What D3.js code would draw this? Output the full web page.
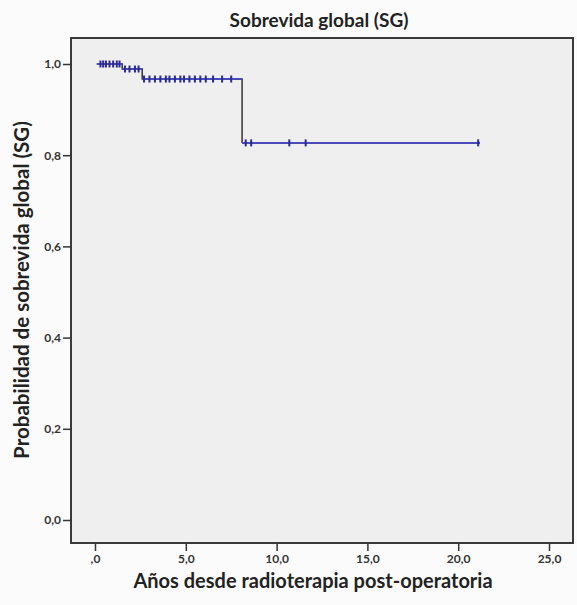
<!DOCTYPE html>
<html>
<head>
<meta charset="utf-8">
<script src="https://cdn.jsdelivr.net/npm/d3@7"></script>
<style>
  body { margin: 0; background: #fbfbfb; }
  svg { display: block; }
</style>
</head>
<body>
<div id="chart-area"></div>
<script>
(function () {
  // Kaplan-Meier steps: [time, survival]
  const stepTimes = [0.1, 1.5, 2.6, 8.1, 21.2];
  const stepSurv = [1.0, 0.989, 0.967, 0.827, 0.827];

  // censored observations (years)
  const censorTimes = [0.3, 0.45, 0.6, 0.8, 1.0, 1.2, 1.35,
    1.65, 1.9, 2.2, 2.4,
    2.7, 3.0, 3.3, 3.6, 3.9, 4.1, 4.4, 4.7, 4.9, 5.2, 5.5, 5.8, 6.1, 6.5, 7.0, 7.5,
    8.3, 8.6, 10.7, 11.6, 21.1];

  const xTicks = [0, 5, 10, 15, 20, 25];
  const yTicks = [0, 0.2, 0.4, 0.6, 0.8, 1.0];

  const width = 577;
  const height = 605;
  const frame = { left: 71, right: 573, top: 38, bottom: 543 };

  const svg = d3
    .select("#chart-area")
    .append("svg")
    .attr("width", width)
    .attr("height", height);

  // scales
  const x = d3.scaleLinear().domain([0, 25]).range([95, 549]);
  const y = d3.scaleLinear().domain([0, 1]).range([520, 64]);

  // comma decimals, SPSS style
  const fmt = (d) => d3.format(".1f")(d).replace(".", ",");

  // plot background
  svg
    .append("rect")
    .attr("x", frame.left)
    .attr("y", frame.top)
    .attr("width", frame.right - frame.left)
    .attr("height", frame.bottom - frame.top)
    .attr("fill", "#efefef")
    .attr("stroke", "#3a3a3a")
    .attr("stroke-width", 2);

  // y axis
  const yAxis = svg
    .append("g")
    .attr("transform", `translate(${frame.left},0)`)
    .call(d3.axisLeft(y).tickValues(yTicks).tickSize(8).tickPadding(2).tickFormat(fmt));
  yAxis.select(".domain").remove();

  // x axis
  const xAxis = svg
    .append("g")
    .attr("transform", `translate(0,${frame.bottom})`)
    .call(
      d3.axisBottom(x)
        .tickValues(xTicks)
        .tickSize(8)
        .tickPadding(3)
        .tickFormat((d) => (d === 0 ? ",0" : fmt(d)))
    );
  xAxis.select(".domain").remove();

  svg.selectAll(".tick line").attr("stroke", "#333").attr("stroke-width", 1.5);
  svg
    .selectAll(".tick text")
    .attr("fill", "#333")
    .attr("font-family", "Lato, sans-serif")
    .attr("font-weight", "bold")
    .attr("font-size", 12);

  // survival step line (vertical drops dark)
  const pts = stepTimes.map((t, i) => [t, stepSurv[i]]);
  const line = d3
    .line()
    .x((d) => x(d[0]))
    .y((d) => y(d[1]))
    .curve(d3.curveStepAfter);

  svg
    .append("path")
    .datum(pts.slice(0, 4))
    .attr("d", line)
    .attr("fill", "none")
    .attr("stroke", "#333")
    .attr("stroke-width", 1.5);

  // horizontal segments in blue
  for (let i = 0; i < pts.length - 1; i++) {
    svg
      .append("line")
      .attr("x1", x(pts[i][0]))
      .attr("x2", x(pts[i + 1][0]))
      .attr("y1", y(pts[i][1]))
      .attr("y2", y(pts[i][1]))
      .attr("stroke", "#4a4ab8")
      .attr("stroke-width", 2);
  }

  // survival value at a given time
  function survAt(t) {
    let s = stepSurv[0];
    for (let i = 0; i < stepTimes.length; i++) {
      if (t >= stepTimes[i]) s = stepSurv[i];
    }
    return s;
  }

  // censor marks
  svg
    .append("g")
    .selectAll("line")
    .data(censorTimes)
    .join("line")
    .attr("x1", (d) => x(d))
    .attr("x2", (d) => x(d))
    .attr("y1", (d) => y(survAt(d)) - 3.5)
    .attr("y2", (d) => y(survAt(d)) + 3.5)
    .attr("stroke", "#2a2a90")
    .attr("stroke-width", 2);

  // title
  svg
    .append("text")
    .attr("x", 319)
    .attr("y", 27)
    .attr("text-anchor", "middle")
    .attr("font-family", "Lato, sans-serif")
    .attr("font-weight", "bold")
    .attr("font-size", 19)
    .attr("fill", "#222")
    .text("Sobrevida global (SG)");

  // x label
  svg
    .append("text")
    .attr("x", 313)
    .attr("y", 588)
    .attr("text-anchor", "middle")
    .attr("font-family", "Lato, sans-serif")
    .attr("font-weight", "bold")
    .attr("font-size", 20)
    .attr("fill", "#222")
    .text("Años desde radioterapia post-operatoria");

  // y label
  svg
    .append("text")
    .attr("transform", "translate(29,290) rotate(-90)")
    .attr("text-anchor", "middle")
    .attr("font-family", "Lato, sans-serif")
    .attr("font-weight", "bold")
    .attr("font-size", 20.5)
    .attr("fill", "#222")
    .text("Probabilidad de sobrevida global (SG)");
})();
</script>
</body>
</html>
